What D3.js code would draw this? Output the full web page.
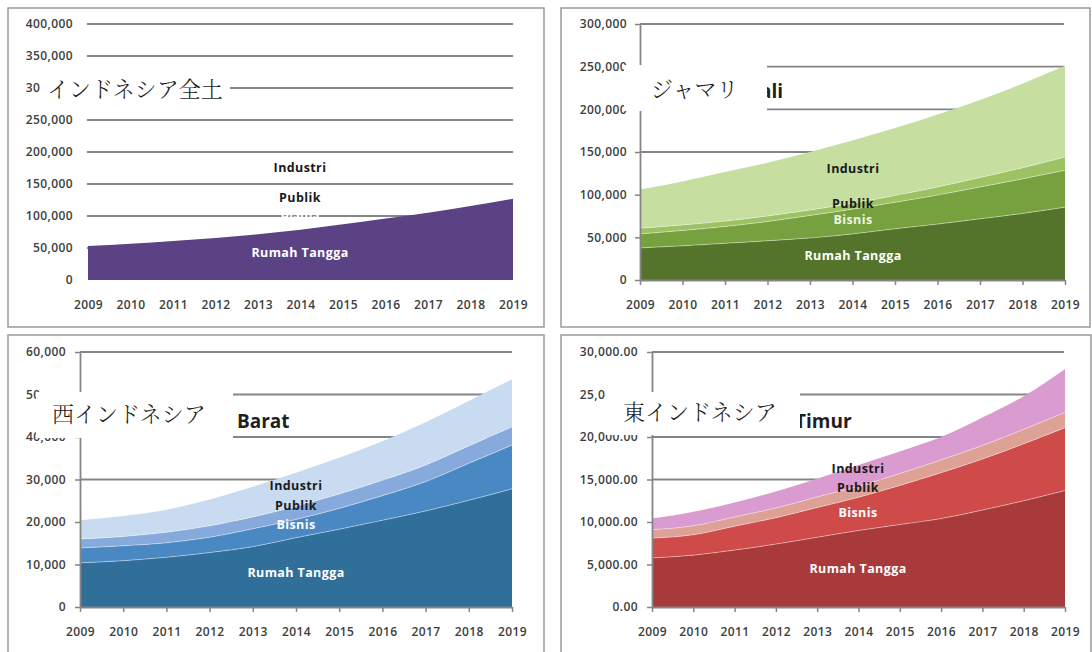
<!DOCTYPE html>
<html>
<head>
<meta charset="utf-8">
<script src="https://cdn.jsdelivr.net/npm/d3@7"></script>
<style>
  html, body { margin: 0; padding: 0; background: #fff; }
  svg { display: block; }
</style>
</head>
<body>
<svg id="chart" width="1092" height="652"></svg>
<script>
// ---- data -------------------------------------------------------------
const years = [2009, 2010, 2011, 2012, 2013, 2014, 2015, 2016, 2017, 2018, 2019];
const sectorNames = ["Rumah Tangga", "Bisnis", "Publik", "Industri"];

// Indonesia (national): only the household layer is filled
const indonesiaRumahTangga = [53000, 56800, 61000, 65800, 71500, 78500, 87000, 96000, 105000, 115500, 127000];

// Jawa-Madura-Bali
const jamaliRumahTangga = [37600, 40000, 43000, 46000, 49300, 54000, 60000, 65500, 71700, 78000, 85400];
const jamaliBisnis      = [16400, 18000, 19700, 22500, 26300, 29000, 31000, 34000, 37300, 40500, 43100];
const jamaliPublik      = [6700, 6500, 6300, 6500, 6400, 7000, 8000, 9500, 11000, 13000, 15500];
const jamaliIndustri    = [45300, 51000, 57500, 62500, 68000, 73500, 79000, 85000, 91000, 98500, 107000];

// Indonesia Barat
const baratRumahTangga = [10400, 10900, 11700, 12800, 14200, 16300, 18300, 20400, 22600, 25100, 27800];
const baratBisnis      = [3500, 3500, 3400, 3600, 4200, 4300, 4900, 5800, 6900, 8700, 10300];
const baratPublik      = [2100, 2200, 2500, 2700, 2800, 3100, 3400, 3600, 3900, 4100, 4300];
const baratIndustri    = [4400, 4800, 5300, 6200, 7100, 7900, 8500, 9200, 10100, 10600, 11200];

// Indonesia Timur
const timurRumahTangga = [5770, 6100, 6700, 7400, 8200, 9000, 9700, 10400, 11400, 12500, 13700];
const timurBisnis      = [2330, 2400, 2800, 3100, 3500, 3900, 4600, 5400, 6000, 6700, 7400];
const timurPublik      = [1000, 1050, 1100, 1150, 1250, 1300, 1400, 1500, 1600, 1700, 1800];
const timurIndustri    = [1300, 1650, 1700, 1950, 2150, 2500, 2600, 2700, 3300, 3900, 5100];

// axis tick values
const ticksIndonesia = [0, 50000, 100000, 150000, 200000, 250000, 300000, 350000, 400000];
const ticksJamali    = [0, 50000, 100000, 150000, 200000, 250000, 300000];
const ticksBarat     = [0, 10000, 20000, 30000, 40000, 50000, 60000];
const ticksTimur     = [0, 5000, 10000, 15000, 20000, 25000, 30000];

// ---- layout -----------------------------------------------------------
// "cut": tick labels that the caption box covers; only the part left of the box is written
const panels = [
  {
    frame: [8, 8, 544, 327],
    xr: [88, 513], yr: [280, 24], yMax: 400000,
    ticks: ticksIndonesia, fmt: d3.format(","),
    grid: [87, 513], axisX: 87, tickLen: 0, tickPad: 14, axisLines: false,
    layers: [[indonesiaRumahTangga, "#5b4284"]],
    labels: [
      ["Industri", 300, 169, "#1a1a1a"],
      ["Publik", 300, 199, "#1a1a1a"],
      ["Bisnis", 300, 215, "#ffffff"],
      ["Rumah Tangga", 300, 254, "#ffffff"]
    ],
    title: null,
    box: [42, 67, 188, 47],
    jp: ["インドネシア全土", 47, 91],
    cut: { 300000: "30" }
  },
  {
    frame: [561, 8, 1090, 327],
    xr: [640, 1065], yr: [280, 24], yMax: 300000,
    ticks: ticksJamali, fmt: d3.format(","),
    grid: [640, 1064], axisX: 640, tickLen: 5, tickPad: 8, axisLines: true,
    layers: [
      [jamaliRumahTangga, "#55742b"],
      [jamaliBisnis, "#77a03f"],
      [jamaliPublik, "#9cc263"],
      [jamaliIndustri, "#c6dea0"]
    ],
    labels: [
      ["Industri", 853, 170, "#1a1a1a"],
      ["Publik", 853, 205, "#1a1a1a"],
      ["Bisnis", 853, 221, "#eef5e4"],
      ["Rumah Tangga", 853, 257, "#ffffff"]
    ],
    title: ["ali", 760, 98],
    box: [624, 65, 143, 46],
    jp: ["ジャマリ", 651, 91],
    cut: {}
  },
  {
    frame: [8, 335, 544, 660],
    xr: [80, 512], yr: [607, 352], yMax: 60000,
    ticks: ticksBarat, fmt: d3.format(","),
    grid: [80, 512], axisX: 80, tickLen: 5, tickPad: 9, axisLines: true,
    layers: [
      [baratRumahTangga, "#2f6f9a"],
      [baratBisnis, "#4a88c4"],
      [baratPublik, "#87aadc"],
      [baratIndustri, "#c9dbf0"]
    ],
    labels: [
      ["Industri", 296, 487, "#1a1a1a"],
      ["Publik", 296, 507, "#1a1a1a"],
      ["Bisnis", 296, 526, "#ffffff"],
      ["Rumah Tangga", 296, 574, "#ffffff"]
    ],
    title: ["Barat", 237, 428],
    box: [36, 392, 197, 46],
    jp: ["西インドネシア", 52, 416],
    cut: { 50000: "50" }
  },
  {
    frame: [561, 335, 1091, 660],
    xr: [652, 1065], yr: [607, 352], yMax: 30000,
    ticks: ticksTimur, fmt: d3.format(",.2f"),
    grid: [652, 1064], axisX: 652, tickLen: 5, tickPad: 9, axisLines: true,
    layers: [
      [timurRumahTangga, "#a93a3b"],
      [timurBisnis, "#cf4b4a"],
      [timurPublik, "#dea196"],
      [timurIndustri, "#da9bd1"]
    ],
    labels: [
      ["Industri", 858, 470, "#1a1a1a"],
      ["Publik", 858, 489, "#1a1a1a"],
      ["Bisnis", 858, 514, "#ffffff"],
      ["Rumah Tangga", 858, 570, "#ffffff"]
    ],
    title: ["Timur", 795, 428],
    box: [605, 392, 195, 43],
    jp: ["東インドネシア", 623, 414],
    cut: { 25000: "25,0" }
  }
];

// ---- drawing ----------------------------------------------------------
const svg = d3.select("#chart");
const tickFont = "'Open Sans', 'Liberation Sans', sans-serif";

panels.forEach(p => {
  const g = svg.append("g");

  // panel frame
  g.append("rect")
    .attr("x", p.frame[0]).attr("y", p.frame[1])
    .attr("width", p.frame[2] - p.frame[0]).attr("height", p.frame[3] - p.frame[1])
    .attr("fill", "none").attr("stroke", "#9a9a9a").attr("stroke-width", 1.5);

  const x = d3.scaleLinear().domain([years[0], years[years.length - 1]]).range(p.xr);
  const y = d3.scaleLinear().domain([0, p.yMax]).range(p.yr);

  // horizontal gridlines
  g.append("g").selectAll("line").data(p.ticks.slice(1)).join("line")
    .attr("x1", p.grid[0]).attr("x2", p.grid[1])
    .attr("y1", d => y(d)).attr("y2", d => y(d))
    .attr("stroke", "#858585").attr("stroke-width", 1.8);

  // stacked areas
  const keys = p.layers.map((_, k) => "s" + k);
  const rows = years.map((yr, i) => {
    const r = { year: yr };
    p.layers.forEach((l, k) => { r["s" + k] = l[0][i]; });
    return r;
  });
  const stacked = d3.stack().keys(keys)(rows);
  const area = d3.area()
    .curve(d3.curveMonotoneX)
    .x(d => x(d.data.year))
    .y0(d => y(d[0]))
    .y1(d => y(d[1]));
  const topLine = d3.line()
    .curve(d3.curveMonotoneX)
    .x(d => x(d.data.year))
    .y(d => y(d[1]));

  g.append("g").selectAll("path").data(stacked).join("path")
    .attr("d", area)
    .attr("fill", (d, k) => p.layers[k][1]);
  g.append("g").selectAll("path").data(stacked.slice(0, -1)).join("path")
    .attr("d", topLine)
    .attr("fill", "none")
    .attr("stroke", "rgba(255,255,255,0.45)")
    .attr("stroke-width", 0.9);

  // y axis
  const yAxis = g.append("g")
    .attr("transform", `translate(${p.axisX},0)`)
    .call(d3.axisLeft(y).tickValues(p.ticks).tickFormat(p.fmt)
      .tickSize(p.tickLen).tickSizeOuter(0).tickPadding(p.tickPad));
  // x axis
  const xAxis = g.append("g")
    .attr("transform", `translate(0,${y(0)})`)
    .call(d3.axisBottom(x).tickValues(years).tickFormat(d3.format("d"))
      .tickSize(p.tickLen).tickSizeOuter(0).tickPadding(20 - p.tickLen));

  [yAxis, xAxis].forEach(ax => {
    ax.select(".domain")
      .attr("stroke", p.axisLines ? "#858585" : "none")
      .attr("stroke-width", 1.8);
    ax.selectAll(".tick line").attr("stroke", "#858585").attr("stroke-width", 1.5);
    ax.selectAll(".tick text")
      .attr("fill", "#3d3d3d")
      .style("font-family", tickFont)
      .style("font-size", "12px")
      .style("font-weight", 600)
      .style("letter-spacing", "0.4px");
  });

  // labels partly hidden behind the caption box keep their left edge
  yAxis.selectAll(".tick text").each(function (d) {
    if (p.cut[d] === undefined) return;
    const el = d3.select(this);
    const w = this.getComputedTextLength();
    const xEnd = +el.attr("x");
    el.attr("text-anchor", "start").attr("x", xEnd - w).text(p.cut[d]);
  });

  // sector labels
  g.append("g").selectAll("text").data(p.labels).join("text")
    .attr("x", d => d[1]).attr("y", d => d[2])
    .attr("text-anchor", "middle")
    .attr("dominant-baseline", "middle")
    .attr("fill", d => d[3])
    .style("font-family", tickFont)
    .style("font-size", "12.5px")
    .style("font-weight", 700)
    .style("letter-spacing", "0.4px")
    .text(d => d[0]);

  // visible tail of the chart title beside the caption box
  if (p.title) {
    g.append("text")
      .attr("x", p.title[1]).attr("y", p.title[2])
      .attr("fill", "#1f1f1f")
      .style("font-family", tickFont)
      .style("font-size", "19px")
      .style("font-weight", 700)
      .text(p.title[0]);
  }

  g.append("rect")
    .attr("x", p.box[0]).attr("y", p.box[1])
    .attr("width", p.box[2]).attr("height", p.box[3])
    .attr("fill", "#ffffff");

  g.append("text")
    .attr("x", p.jp[1]).attr("y", p.jp[2])
    .attr("dominant-baseline", "middle")
    .attr("fill", "#1a1a1a")
    .style("font-family", "'Noto Serif CJK JP', 'Noto Sans CJK JP', serif")
    .style("font-size", "22px")
    .style("font-weight", 300)
    .text(p.jp[0]);
});
</script>
</body>
</html>
